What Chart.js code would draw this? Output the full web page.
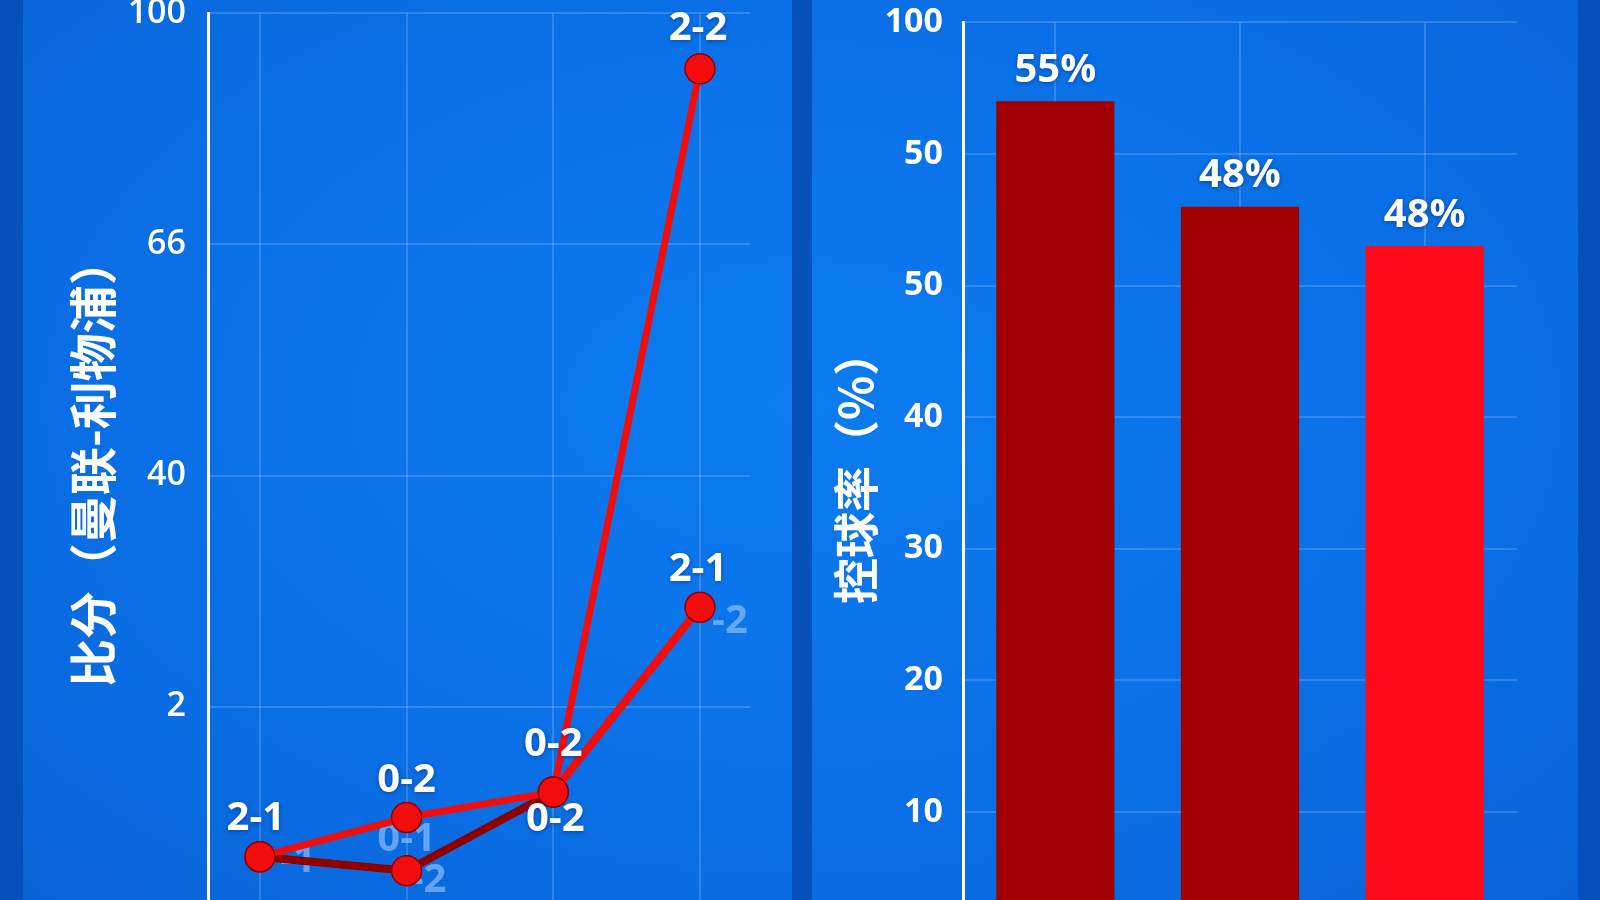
<!DOCTYPE html>
<html>
<head>
<meta charset="utf-8">
<script src="https://cdn.jsdelivr.net/npm/chart.js@4.4.1/dist/chart.umd.min.js"></script>
<style>
    html, body { margin: 0; padding: 0; width: 1600px; height: 900px; overflow: hidden; }
    body { background: radial-gradient(ellipse at 50% 45%, #0c7bf0 0%, #0a6fe6 60%, #0963d6 100%); position: relative; }
    .stripe { position: absolute; top: 0; height: 900px; background: #0651b9; }
    .box { position: absolute; }
</style>
</head>
<body>
<div class="stripe" style="left:0;width:23px"></div>
<div class="stripe" style="left:792px;width:20px"></div>
<div class="stripe" style="left:1578px;width:22px"></div>
<!-- both plots run past the bottom edge of the page, like the reference -->
<div class="box" style="left:23px;top:-29px;width:769px;height:1016px"><canvas id="scoreChart"></canvas></div>
<div class="box" style="left:812px;top:-18px;width:766px;height:1002px"><canvas id="possessionChart"></canvas></div>

<script>
// left panel: score line chart (axis ticks are evenly spaced labels)
const matchSlots = [0, 1, 2, 3];
const scoreTickLabels = ['2', '40', '66', '100'];
const lineA = [-0.65, -0.48, -0.37, 2.76];
const lineB = [-0.65, -0.71, -0.37, 0.43];
const lineALabels = ['2-1', '0-2', '0-2', '2-2'];
const lineBLabels = ['', '', '0-2', '2-1'];
const lineAGhost = ['', '0-1', '', ''];
const lineBGhost = ['-1', '-2', '', '-2'];

// right panel: possession bars
const matches = ['1', '2', '3'];
const possession = [64, 56, 53];
const possessionLabels = ['55%', '48%', '48%'];
const possessionTickValues = [10, 20, 30, 40, 50, 60, 70];
const possessionTickLabels = ['10', '20', '30', '40', '50', '50', '100'];

const gridColor = 'rgba(255,255,255,0.16)';
const red = '#f20c0c';
const darkRed = '#8e0000';
const numFont = 'Open Sans';
const cjkFont = 'Noto Sans CJK SC';
// leading en + thin space nudges the rotated titles up a little
const titlePad = '\u2002\u2009';

function drawTexts(chart, key, offKey, color) {
    const ctx = chart.ctx;
    ctx.save();
    ctx.font = `bold 40px "${numFont}"`;
    ctx.textAlign = 'center';
    ctx.textBaseline = 'middle';
    ctx.fillStyle = color;
    if (color === '#fff') {
        ctx.shadowColor = 'rgba(0,20,80,0.45)';
        ctx.shadowBlur = 4;
        ctx.shadowOffsetY = 1;
    }
    chart.data.datasets.forEach((ds, i) => {
        const meta = chart.getDatasetMeta(i);
        (ds[key] || []).forEach((txt, j) => {
            if (!txt) return;
            const pt = meta.data[j];
            const off = ds[offKey][j];
            ctx.fillText(txt, pt.x + off[0], pt.y + off[1]);
        });
    });
    ctx.restore();
}

const pointLabels = {
    id: 'pointLabels',
    beforeDatasetsDraw(chart) { drawTexts(chart, 'ghost', 'ghostOffsets', 'rgba(175,210,255,0.55)'); },
    afterDatasetsDraw(chart) { drawTexts(chart, 'labels', 'labelOffsets', '#fff'); }
};

const barLabels = {
    id: 'barLabels',
    afterDatasetsDraw(chart) {
        const ctx = chart.ctx;
        const meta = chart.getDatasetMeta(0);
        ctx.save();
        ctx.font = `bold 40px "${numFont}"`;
        ctx.textAlign = 'center';
        ctx.textBaseline = 'middle';
        ctx.fillStyle = '#fff';
        ctx.shadowColor = 'rgba(0,20,80,0.45)';
        ctx.shadowBlur = 4;
        ctx.shadowOffsetY = 1;
        meta.data.forEach((bar, i) => ctx.fillText(possessionLabels[i], bar.x, bar.y - 31));
        ctx.restore();
    }
};

const scoreChart = new Chart(document.getElementById('scoreChart').getContext('2d'), {
    type: 'line',
    data: {
        datasets: [
            {
                data: matchSlots.map((x, i) => ({ x, y: lineA[i] })),
                borderColor: red,
                borderWidth: 7,
                borderJoinStyle: 'round',
                pointRadius: 15,
                pointBackgroundColor: red,
                pointBorderColor: darkRed,
                pointBorderWidth: 1.5,
                labels: lineALabels,
                labelOffsets: [[-4, -38], [0, -37], [0, -47], [-2, -40]],
                ghost: lineAGhost,
                ghostOffsets: [[0, 0], [0, 22], [0, 0], [0, 0]]
            },
            {
                data: matchSlots.map((x, i) => ({ x, y: lineB[i] })),
                borderColor: darkRed,
                borderWidth: 8,
                borderJoinStyle: 'round',
                segment: { borderColor: ctx => ctx.p1DataIndex === 3 ? red : darkRed },
                pointRadius: 15,
                pointBackgroundColor: red,
                pointBorderColor: darkRed,
                pointBorderWidth: 1.5,
                labels: lineBLabels,
                labelOffsets: [[0, 0], [0, 0], [2, 28], [-2, -38]],
                ghost: lineBGhost,
                ghostOffsets: [[38, 4], [22, 10], [0, 0], [30, 14]]
            }
        ]
    },
    options: {
        responsive: true,
        maintainAspectRatio: false,
        animation: false,
        layout: { padding: { top: 0, right: 42, bottom: 0, left: 0 } },
        plugins: { legend: { display: false }, tooltip: { enabled: false } },
        scales: {
            x: {
                type: 'linear', min: -0.354, max: 3.341,
                afterBuildTicks: s => { s.ticks = matchSlots.map(v => ({ value: v })); },
                ticks: { display: false },
                grid: { color: gridColor, lineWidth: 2, drawTicks: false },
                border: { display: false }
            },
            y: {
                min: -1.03, max: 3,
                afterBuildTicks: s => { s.ticks = scoreTickLabels.map((_, i) => ({ value: i })); },
                afterFit: s => { s.width = 185; },
                ticks: {
                    callback: (v, i) => scoreTickLabels[i],
                    color: '#fff', padding: 22,
                    font: { family: numFont, size: 34, weight: '600' }
                },
                grid: { color: gridColor, lineWidth: 2, drawTicks: false },
                border: { color: '#fff', width: 3 },
                title: {
                    display: true, text: titlePad + '比分（曼联-利物浦）', color: '#fff',
                    font: { family: cjkFont, size: 48, weight: 'bold' },
                    padding: { top: 41, bottom: 0 }
                }
            }
        }
    },
    plugins: [pointLabels]
});

const possessionChart = new Chart(document.getElementById('possessionChart').getContext('2d'), {
    type: 'bar',
    data: {
        labels: matches,
        datasets: [{
            data: possession,
            backgroundColor: ['#a10000', '#a10000', '#ff0a1a'],
            barPercentage: 0.64,
            categoryPercentage: 1.0
        }]
    },
    options: {
        responsive: true,
        maintainAspectRatio: false,
        animation: false,
        layout: { padding: { top: 0, right: 61, bottom: 0, left: 0 } },
        plugins: { legend: { display: false }, tooltip: { enabled: false } },
        scales: {
            x: {
                ticks: { display: false },
                grid: { color: gridColor, lineWidth: 2, drawTicks: false, offset: false },
                border: { display: false }
            },
            y: {
                min: 0, max: 70,
                afterBuildTicks: s => { s.ticks = possessionTickValues.map(v => ({ value: v })); },
                afterFit: s => { s.width = 151; },
                ticks: {
                    callback: (v, i) => possessionTickLabels[i],
                    color: '#fff', padding: 20,
                    font: { family: numFont, size: 34, weight: 'bold' }
                },
                grid: { color: gridColor, lineWidth: 2, drawTicks: false },
                border: { color: '#fff', width: 3 },
                title: {
                    display: true, text: titlePad + '控球率（%）', color: '#fff',
                    font: { family: cjkFont, size: 46, weight: 'bold' },
                    padding: { top: 16, bottom: 0 }
                }
            }
        }
    },
    plugins: [barLabels]
});
</script>
</body>
</html>
